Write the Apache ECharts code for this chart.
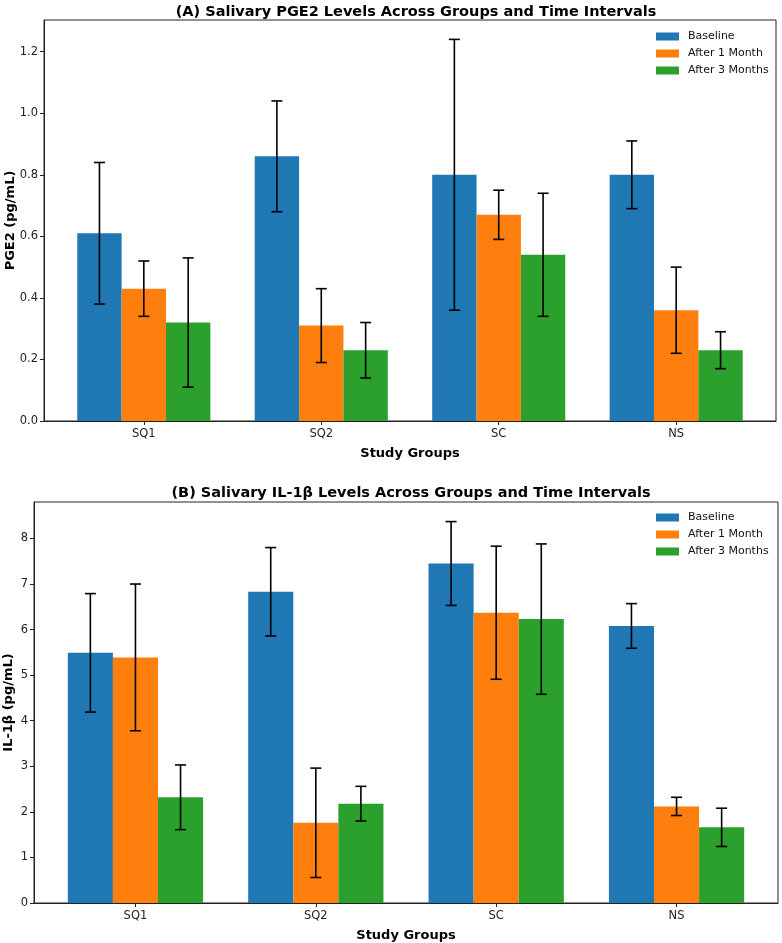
<!DOCTYPE html>
<html>
<head>
<meta charset="utf-8">
<script src="https://cdn.jsdelivr.net/npm/echarts@6/dist/echarts.min.js"></script>
<style>
  html, body { margin: 0; padding: 0; background: #fff; }
  #chart { width: 782px; height: 943px; }
</style>
</head>
<body>
<div id="chart"></div>
<script>
// groups on the x axis
var groups = ["SQ1", "SQ2", "SC", "NS"];
var timeNames = ["Baseline", "After 1 Month", "After 3 Months"];

// (A) PGE2 means and error (±)
var pgeBaseline = [0.61, 0.86, 0.80, 0.80];
var pgeBaselineErr = [0.23, 0.18, 0.44, 0.11];
var pgeMonth1 = [0.43, 0.31, 0.67, 0.36];
var pgeMonth1Err = [0.09, 0.12, 0.08, 0.14];
var pgeMonth3 = [0.32, 0.23, 0.54, 0.23];
var pgeMonth3Err = [0.21, 0.09, 0.20, 0.06];

// (B) IL-1β means and error (±)
var ilBaseline = [5.49, 6.83, 7.45, 6.08];
var ilBaselineErr = [1.30, 0.97, 0.92, 0.49];
var ilMonth1 = [5.39, 1.76, 6.37, 2.12];
var ilMonth1Err = [1.61, 1.20, 1.46, 0.20];
var ilMonth3 = [2.32, 2.18, 6.23, 1.66];
var ilMonth3Err = [0.71, 0.38, 1.65, 0.42];

// tick labels
var pgeTicks = [0, 0.2, 0.4, 0.6, 0.8, 1.0, 1.2];
var ilTicks = [0, 1, 2, 3, 4, 5, 6, 7, 8];

var colors = ["#1f77b4", "#ff7f0e", "#2ca02c"];
var barW = 0.25;
var font = "DejaVu Sans";

function rows(vals, errs) {
  return vals.map(function (v, i) { return [i, v, errs[i]]; });
}

// bar + error bar drawn through the axis scales
function makeRender(offset) {
  return function (params, api) {
    var x = api.value(0) + offset;
    var v = api.value(1);
    var e = api.value(2);
    var p0 = api.coord([x - barW / 2, v]);
    var p1 = api.coord([x + barW / 2, 0]);
    var top = api.coord([x, v + e]);
    var bot = api.coord([x, v - e]);
    var cap = 5.5;
    var ls = { stroke: "#000", lineWidth: 1.6 };
    return {
      type: "group",
      children: [
        { type: "rect", shape: { x: p0[0], y: p0[1], width: p1[0] - p0[0], height: p1[1] - p0[1] },
          style: { fill: api.visual("color") } },
        { type: "line", shape: { x1: top[0], y1: top[1], x2: bot[0], y2: bot[1] }, style: ls },
        { type: "line", shape: { x1: top[0] - cap, y1: top[1], x2: top[0] + cap, y2: top[1] }, style: ls },
        { type: "line", shape: { x1: bot[0] - cap, y1: bot[1], x2: bot[0] + cap, y2: bot[1] }, style: ls }
      ]
    };
  };
}

function xAxisFor(gridIndex) {
  return {
    gridIndex: gridIndex,
    type: "value",
    min: -0.5625,
    max: 3.5625,
    z: 10,
    name: "Study Groups",
    nameLocation: "middle",
    nameGap: 26,
    nameTextStyle: { fontFamily: font, fontWeight: "bold", fontSize: 13, color: "#000" },
    axisLine: { show: true, onZero: false, lineStyle: { color: "#222", width: 1 } },
    axisTick: { show: true, length: 4, customValues: [0, 1, 2, 3], lineStyle: { color: "#222" } },
    axisLabel: {
      customValues: [0, 1, 2, 3],
      formatter: function (v) { return groups[Math.round(v)]; },
      fontFamily: font, fontSize: 11.5, color: "#222", margin: 7.5
    },
    splitLine: { show: false }
  };
}

function yAxisFor(gridIndex, name, max, ticks, digits, gap) {
  return {
    gridIndex: gridIndex,
    type: "value",
    min: 0,
    max: max,
    z: 10,
    name: name,
    nameLocation: "middle",
    nameGap: gap,
    nameMoveOverlap: false,
    nameTextStyle: { fontFamily: font, fontWeight: "bold", fontSize: 13, color: "#000" },
    axisLine: { show: true, onZero: false, lineStyle: { color: "#222", width: 1 } },
    axisTick: { show: true, length: 4, customValues: ticks, lineStyle: { color: "#222" } },
    axisLabel: {
      customValues: ticks,
      formatter: function (v) { return v.toFixed(digits); },
      fontFamily: font, fontSize: 11.5, color: "#222", margin: 6
    },
    splitLine: { show: false }
  };
}

function legendFor(top) {
  return {
    orient: "vertical",
    left: 651,
    top: top,
    icon: "rect",
    itemWidth: 23,
    itemHeight: 8,
    itemGap: 6,
    data: timeNames,
    textStyle: { fontFamily: font, fontSize: 11, color: "#111", lineHeight: 11, padding: [0, 0, 0, 4] }
  };
}

var pgeSets = [rows(pgeBaseline, pgeBaselineErr), rows(pgeMonth1, pgeMonth1Err), rows(pgeMonth3, pgeMonth3Err)];
var ilSets = [rows(ilBaseline, ilBaselineErr), rows(ilMonth1, ilMonth1Err), rows(ilMonth3, ilMonth3Err)];
var offsets = [-barW, 0, barW];

var series = [];
[pgeSets, ilSets].forEach(function (sets, g) {
  sets.forEach(function (data, k) {
    series.push({
      type: "custom",
      name: timeNames[k],
      xAxisIndex: g,
      yAxisIndex: g,
      itemStyle: { color: colors[k] },
      encode: { x: 0, y: 1 },
      clip: false,
      data: data,
      renderItem: makeRender(offsets[k])
    });
  });
});

var chart = echarts.init(document.getElementById("chart"));
chart.setOption({
  backgroundColor: "#fff",
  animation: false,
  title: [
    { text: "(A) Salivary PGE2 Levels Across Groups and Time Intervals", left: 411, top: 0, textAlign: "center",
      textStyle: { fontFamily: font, fontWeight: "bold", fontSize: 14.5, color: "#000" } },
    { text: "(B) Salivary IL-1β Levels Across Groups and Time Intervals", left: 406, top: 481, textAlign: "center",
      textStyle: { fontFamily: font, fontWeight: "bold", fontSize: 14.5, color: "#000" } }
  ],
  legend: [legendFor(26), legendFor(507)],
  grid: [
    { left: 44, top: 20, width: 732, height: 401, show: true, borderColor: "#222", borderWidth: 1,
      outerBoundsMode: "none", containLabel: false },
    { left: 34, top: 502, width: 744, height: 401, show: true, borderColor: "#222", borderWidth: 1,
      outerBoundsMode: "none", containLabel: false }
  ],
  xAxis: [xAxisFor(0), xAxisFor(1)],
  yAxis: [
    yAxisFor(0, "PGE2 (pg/mL)", 1.303, pgeTicks, 1, 27),
    yAxisFor(1, "IL-1β (pg/mL)", 8.8, ilTicks, 0, 19)
  ],
  series: series
});
</script>
</body>
</html>
